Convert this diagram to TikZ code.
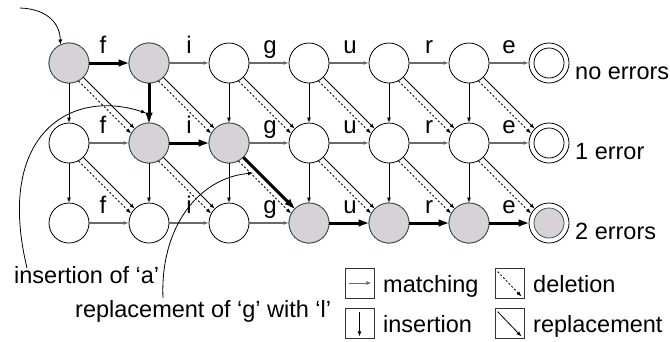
\documentclass[tikz,border=0pt]{standalone}
\usepackage{fontspec}
\setmainfont{Liberation Sans}
\usetikzlibrary{arrows.meta}
\definecolor{stategray}{RGB}{214,210,214}
\definecolor{stateedge}{RGB}{55,85,85}
\definecolor{matchgray}{RGB}{105,105,105}
\tikzset{
  state/.style={circle, draw=black, line width=0.8pt, minimum size=40pt, inner sep=0pt, fill=white},
  active/.style={state, fill=stategray, draw=stateedge},
  matchedge/.style={draw=matchgray, line width=1.2pt, -{Latex[length=5pt,width=4pt]}},
  insedge/.style={draw=black, line width=0.8pt, -{Latex[length=5pt,width=4pt]}},
  repedge/.style={draw=black, line width=0.8pt, -{Latex[length=5pt,width=4pt]}},
  deledge/.style={draw=black, line width=0.8pt, dash pattern=on 2pt off 2pt, -{Latex[length=5pt,width=4pt]}},
  boldedge/.style={draw=black, line width=3pt, -{Latex[length=10pt,width=8pt]}},
  edgelabel/.style={anchor=base, inner sep=0pt, font=\fontsize{24}{28}\selectfont},
  txt/.style={inner sep=0pt, font=\fontsize{23.5}{27}\selectfont},
  legbox/.style={draw=black!80, line width=0.8pt, minimum width=29pt, minimum height=30pt, inner sep=0pt},
  annot/.style={draw=black, line width=0.8pt, -{Latex[length=5pt,width=4pt]}}
}
\begin{document}
\begin{tikzpicture}[x=1pt, y=-1pt]
\useasboundingbox (0,0) rectangle (670,341);
% states
\foreach \r/\y in {0/63,1/143,2/223}{
  \foreach \c/\x in {0/69,1/149,2/229,3/309,4/389,5/469}{
    \node[state] (n-\r-\c) at (\x,\y) {};
  }
  \node[state] (n-\r-6) at (549,\y) {};
}
% active states
\foreach \r/\c in {0/0,0/1,1/1,1/2,2/3,2/4,2/5}{
  \node[active] at (n-\r-\c) {};
}
% inner circles of final states
\draw[line width=0.8pt] (n-0-6) circle (15pt);
\draw[line width=0.8pt] (n-1-6) circle (15pt);
\draw[line width=0.8pt, draw=stateedge, fill=stategray] (n-2-6) circle (15pt);
% horizontal (matching) edges
\foreach \r in {0,1,2}{
  \foreach \c [evaluate=\c as \d using int(\c+1)] in {0,...,5}{
    \draw[matchedge] (n-\r-\c) -- (n-\r-\d);
  }
}
% vertical (insertion) edges
\foreach \c in {0,...,5}{
  \draw[insedge] (n-0-\c) -- (n-1-\c);
  \draw[insedge] (n-1-\c) -- (n-2-\c);
}
% diagonal edges
\foreach \r [evaluate=\r as \s using int(\r+1)] in {0,1}{
  \foreach \c [evaluate=\c as \d using int(\c+1)] in {0,...,5}{
    \draw[repedge] (n-\r-\c) -- (n-\s-\d);
    \draw[deledge] (n-\r-\c.-62.5) -- (n-\s-\d.152.5);
  }
}
% bold path
\draw[boldedge] (n-0-0) -- (n-0-1);
\draw[boldedge] (n-0-1) -- (n-1-1);
\draw[boldedge] (n-1-1) -- (n-1-2);
\draw[boldedge] (n-1-2) -- (n-2-3);
\draw[boldedge] (n-2-3) -- (n-2-4);
\draw[boldedge] (n-2-4) -- (n-2-5);
\draw[boldedge] (n-2-5) -- (n-2-6);
% edge labels
\foreach \y in {53,133,213}{
  \node[edgelabel] (lf\y) at (103,\y) {f};
  \node[edgelabel] (li\y) at (189,\y) {i};
  \node[edgelabel] (lg\y) at (270,\y) {g};
  \node[edgelabel] (lu\y) at (350,\y) {u};
  \node[edgelabel] (lr\y) at (429,\y) {r};
  \node[edgelabel] (le\y) at (509,\y) {e};
}
% final labels
\node[txt, anchor=base west] (l0) at (575,79) {no errors};
\node[txt, anchor=base west] (l1) at (575,159) {1 error};
\node[txt, anchor=base west] (l2) at (575,239) {2 errors};
% start arrow
\coordinate (start) at (20,8);
\draw[annot] (start) .. controls (48,9) and (60,24) .. (n-0-0.115);
% annotations
\node[txt, anchor=base west] (ins) at (14,283) {insertion of ‘a’};
\node[txt, anchor=base west] (rep) at (75,317) {replacement of ‘g’ with ‘l’};
\coordinate (insA) at (27,268);
\coordinate (insB) at (146,113);
\draw[annot] (insA) .. controls (-5,135) and (70,88) .. (insB);
\coordinate (repA) at (163,298);
\coordinate (repB) at (253,173);
\draw[annot] (repA) .. controls (160,228) and (198,178) .. (repB);
% legend
\node[legbox] (bm) at (359.5,283) {};
\node[legbox] (bi) at (359.5,323) {};
\node[legbox] (bd) at (509.5,283) {};
\node[legbox] (br) at (509.5,323) {};
\draw[matchedge, line width=0.9pt] ([xshift=4pt]bm.west) -- ([xshift=-3pt]bm.east);
\draw[insedge] ([yshift=-4pt]bi.north) -- ([yshift=2pt]bi.south);
\draw[deledge] ([shift={(3pt,-4pt)}]bd.north west) -- ([shift={(-3pt,2pt)}]bd.south east);
\draw[repedge] ([shift={(3pt,-4pt)}]br.north west) -- ([shift={(-3pt,2pt)}]br.south east);
\node[txt, anchor=base west] (tm) at (383,292) {matching};
\node[txt, anchor=base west] (ti) at (383,332) {insertion};
\node[txt, anchor=base west] (td) at (533,292) {deletion};
\node[txt, anchor=base west] (tr) at (533,332) {replacement};
\end{tikzpicture}
\end{document}
